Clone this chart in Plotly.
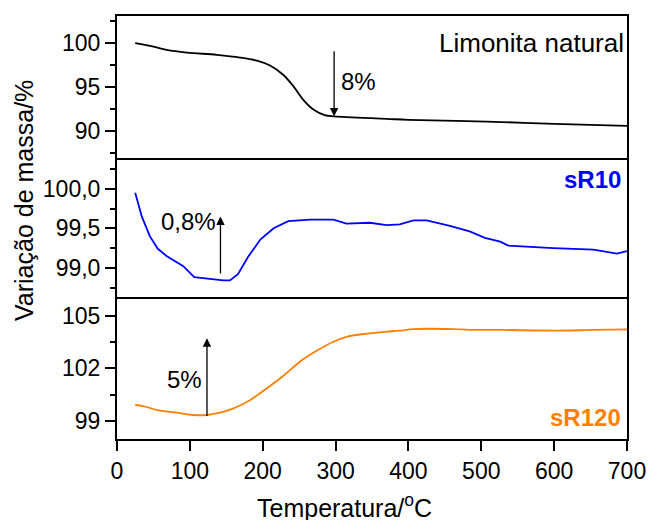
import plotly.graph_objects as go

# Limonita natural (black)
temp_nat = [25, 50, 68, 96, 137, 169, 192, 210, 228, 242, 256, 270, 285, 298, 370, 400, 507, 600, 700]
mass_nat = [100.0, 99.6, 99.24, 98.93, 98.67, 98.36, 98.0, 97.45, 96.4, 95.1, 93.5, 92.4, 91.8, 91.65, 91.37, 91.25, 91.06, 90.8, 90.57]

# sR10 (blue)
temp_r10 = [25, 34, 45, 56, 68, 91, 106, 123, 146, 155, 166, 180, 197, 215, 235, 265, 297, 315, 347, 370, 388,
            407, 425, 457, 484, 505, 526, 537, 576, 599, 654, 686, 700]
mass_r10 = [99.95, 99.65, 99.4, 99.24, 99.15, 99.02, 98.88, 98.86, 98.84, 98.84, 98.92, 99.14, 99.36, 99.5, 99.59,
            99.61, 99.61, 99.56, 99.57, 99.54, 99.55, 99.6, 99.6, 99.53, 99.46, 99.38, 99.33, 99.28, 99.26, 99.25,
            99.23, 99.18, 99.21]

# sR120 (orange)
temp_r120 = [25, 36, 54, 82, 105, 123, 141, 160, 183, 205, 228, 251, 274, 297, 315, 347, 370, 388, 407, 462,
             484, 530, 599, 654, 700]
mass_r120 = [99.91, 99.85, 99.63, 99.47, 99.34, 99.34, 99.47, 99.72, 100.2, 100.84, 101.56, 102.38, 103.0, 103.52,
             103.8, 104.0, 104.09, 104.15, 104.24, 104.24, 104.2, 104.19, 104.15, 104.19, 104.22]

yticks_nat = [90, 95, 100]
yticks_r10 = [99.0, 99.5, 100.0]
yticks_r10_text = ["99,0", "99,5", "100,0"]
yticks_r120 = [99, 102, 105]
xticks = [0, 100, 200, 300, 400, 500, 600, 700]

font = "Arial, Liberation Sans, sans-serif"
blue = "#0000FF"
orange = "#FF7F00"

fig = go.Figure()
fig.add_trace(go.Scatter(x=temp_nat, y=mass_nat, mode="lines", line=dict(color="black", width=1.8, shape="spline"),
                         xaxis="x", yaxis="y"))
fig.add_trace(go.Scatter(x=temp_r10, y=mass_r10, mode="lines", line=dict(color=blue, width=1.8),
                         xaxis="x2", yaxis="y2"))
fig.add_trace(go.Scatter(x=temp_r120, y=mass_r120, mode="lines", line=dict(color=orange, width=1.8, shape="spline"),
                         xaxis="x3", yaxis="y3"))

xcommon = dict(range=[0, 700], showline=True, linecolor="black", linewidth=2,
               showgrid=False, zeroline=False, automargin=False)
ycommon = dict(showline=True, linecolor="black", linewidth=2, mirror=True, showgrid=False, zeroline=False,
               ticks="outside", ticklen=10, tickwidth=1.5, tickcolor="black", automargin=False,
               tickfont=dict(size=23, family=font, color="black"))
minor = dict(ticks="outside", ticklen=5, tickwidth=1.5, tickcolor="black")

fig.update_layout(
    width=648, height=520,
    margin=dict(l=117, r=21, t=16, b=81),
    plot_bgcolor="white", paper_bgcolor="white",
    showlegend=False,
    font=dict(family=font, color="black"),
    xaxis=dict(xcommon, anchor="y", mirror=True, showticklabels=False, ticks=""),
    xaxis2=dict(xcommon, anchor="y2", matches="x", showticklabels=False, ticks=""),
    xaxis3=dict(xcommon, anchor="y3", matches="x", tickvals=xticks, ticks="outside", ticklen=10, tickwidth=1.5,
                tickcolor="black", tickfont=dict(size=23, family=font, color="black")),
    yaxis=dict(ycommon, domain=[0.6643, 1], range=[86.9, 103.1], tickvals=yticks_nat,
               minor=dict(minor, tickvals=[87.5, 92.5, 97.5, 102.5])),
    yaxis2=dict(ycommon, domain=[0.3357, 0.6643], range=[98.63, 100.39], tickvals=yticks_r10,
                ticktext=yticks_r10_text, minor=dict(minor, tickvals=[98.75, 99.25, 99.75, 100.25])),
    yaxis3=dict(ycommon, domain=[0, 0.3357], range=[97.97, 106.07], tickvals=yticks_r120,
                minor=dict(minor, tickvals=[100.5, 103.5])),
)

arrow = dict(text="", showarrow=True, arrowhead=2, arrowsize=1.3, arrowwidth=1.3, arrowcolor="black",
             standoff=0, startstandoff=0)
fig.add_annotation(arrow, x=298, y=91.65, ax=298, ay=99.24, xref="x", yref="y", axref="x", ayref="y")
fig.add_annotation(arrow, x=142, y=99.65, ax=142, ay=98.91, xref="x2", yref="y2", axref="x2", ayref="y2")
fig.add_annotation(arrow, x=123.5, y=103.71, ax=123.5, ay=99.19, xref="x3", yref="y3", axref="x3", ayref="y3")

txt = dict(showarrow=False, font=dict(size=24, family=font, color="black"))
fig.add_annotation(txt, text="8%", x=305, y=95.6, xref="x", yref="y", xanchor="left")
fig.add_annotation(txt, text="0,8%", x=138, y=99.59, xref="x2", yref="y2", xanchor="right")
fig.add_annotation(txt, text="5%", x=119, y=101.38, xref="x3", yref="y3", xanchor="right")
fig.add_annotation(showarrow=False, text="Limonita natural", x=698, y=100, xref="x", yref="y", xanchor="right",
                   font=dict(size=26, family=font, color="black"))
fig.add_annotation(showarrow=False, text="<b>sR10</b>", x=694, y=100.12, xref="x2", yref="y2", xanchor="right",
                   font=dict(size=24, family=font, color=blue))
fig.add_annotation(showarrow=False, text="<b>sR120</b>", x=694, y=99.19, xref="x3", yref="y3", xanchor="right",
                   font=dict(size=24, family=font, color=orange))

fig.add_annotation(showarrow=False, text="Variação de massa/%", textangle=-90, x=-0.1824, y=0.565,
                   xanchor="center", yanchor="middle",
                   xref="paper", yref="paper", font=dict(size=25, family=font, color="black"))
fig.add_annotation(showarrow=False, text="Temperatura/<sup>o</sup>C", x=0.447, y=-0.158,
                   xanchor="center", yanchor="middle",
                   xref="paper", yref="paper", font=dict(size=25, family=font, color="black"))

fig.write_html("out.html", config={"displayModeBar": False},
               post_script="document.body.style.margin='0';")
